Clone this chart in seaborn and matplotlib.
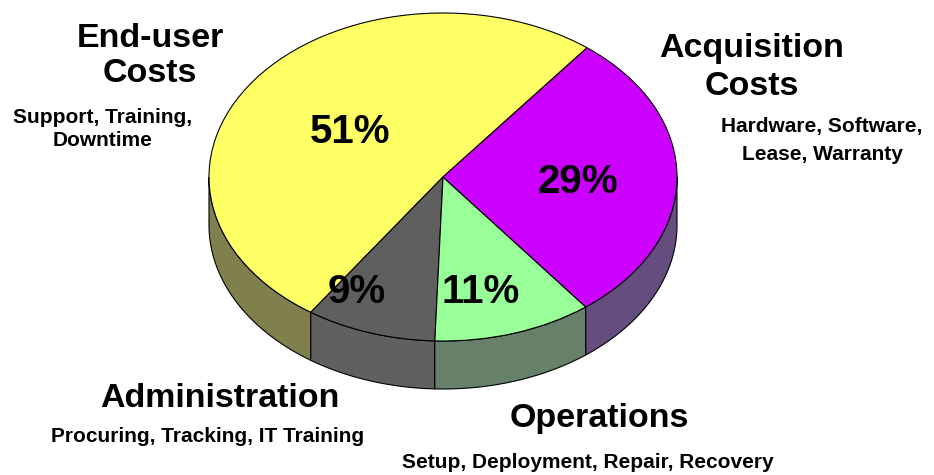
import numpy as np
import matplotlib.pyplot as plt
import seaborn as sns
from matplotlib.transforms import Affine2D

# Data (slice order is counterclockwise from the start angle)
categories = ["End-user\nCosts", "Administration", "Operations", "Acquisition\nCosts"]
shares = [51, 9, 11, 29]
details = ["Support, Training,\nDowntime",
           "Procuring, Tracking, IT Training",
           "Setup, Deployment, Repair, Recovery",
           "Hardware, Software,\nLease, Warranty"]

# Styling
top_colors = ["#FFFF66", "#5F5F5F", "#99FF99", "#CC00FF"]
side_colors = ["#80804D", "#606060", "#66806A", "#664D80"]

sns.set_theme(style="white")
plt.rcParams["font.family"] = ["Liberation Sans", "DejaVu Sans"]
plt.rcParams["text.color"] = "black"

fig = plt.figure(figsize=(9.34, 4.75), dpi=100)
ax = fig.add_axes([0, 0, 1, 1])

# ellipse geometry in pixel units (y pointing down)
cx, cy, rx, ry, depth = 443, 177, 234, 164, 48
start = 52

wedges, _ = ax.pie(shares, colors=top_colors, startangle=start, counterclock=True,
                   wedgeprops=dict(edgecolor="black", linewidth=0.8))
to_px = Affine2D().scale(rx, -ry).translate(cx, cy) + ax.transData
for w in wedges:
    w.set_transform(to_px)
    w.set_zorder(3)

# side walls: only the front half (180..360 deg) is visible
for w, col in zip(wedges, side_colors):
    for off in (0, 360):
        lo = max(w.theta1, 180 + off)
        hi = min(w.theta2, 360 + off)
        if hi <= lo:
            continue
        t = np.radians(np.linspace(lo, hi, 120))
        x = cx + rx * np.cos(t)
        y_top = cy - ry * np.sin(t)
        y_bot = y_top + depth
        ax.fill(np.r_[x, x[::-1]], np.r_[y_top, y_bot[::-1]], facecolor=col,
                edgecolor="black", linewidth=0.8, zorder=2)

# percentage labels
pct_pos = [(350, 143), (357, 303), (481, 303), (578, 193)]
for s, (px, py) in zip(shares, pct_pos):
    ax.text(px, py, f"{s}%", ha="center", va="baseline", fontsize=29,
            fontweight="bold", color="black", zorder=5)

# category titles and detail lines: (x, baseline of each line)
title_pos = [(150, [47, 82]), (220, [407]), (599, [427]), (752, [57, 95])]
detail_pos = [(103, [123, 146]), (208, [442]), (588, [468]), (822, [132, 160])]

for text, (px, bases) in zip(categories, title_pos):
    for line, by in zip(text.split("\n"), bases):
        ax.text(px, by, line, ha="center", va="baseline", fontsize=24.5,
                fontweight="bold", color="black")
for text, (px, bases) in zip(details, detail_pos):
    for line, by in zip(text.split("\n"), bases):
        ax.text(px, by, line, ha="center", va="baseline", fontsize=15,
                fontweight="bold", color="black")

ax.set_xlim(0, 934)
ax.set_ylim(475, 0)
ax.set_aspect("auto")
ax.axis("off")

plt.savefig("out.png", dpi=100)
